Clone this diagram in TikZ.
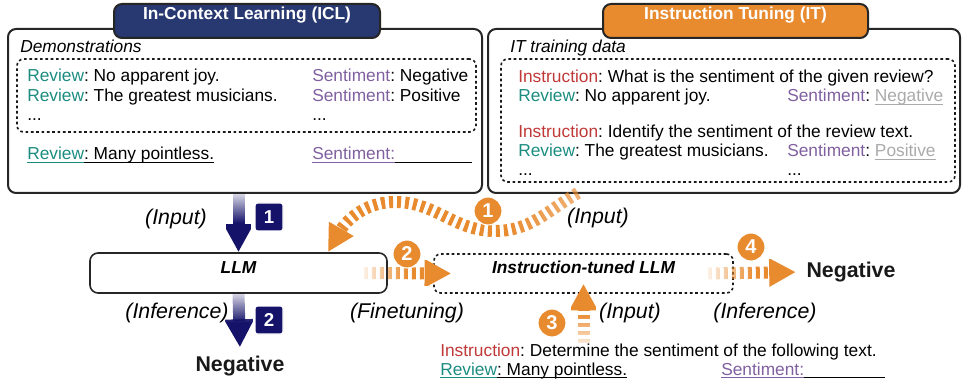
\documentclass[tikz,border=0pt]{standalone}
\usepackage{fontspec}
\setmainfont{Liberation Sans}
\usetikzlibrary{arrows.meta,fit,fadings,positioning}
\frenchspacing

\definecolor{navy}{RGB}{20,18,105}
\definecolor{navytitle}{RGB}{40,56,112}
\definecolor{itorange}{RGB}{232,138,46}
\definecolor{rvwcol}{RGB}{28,140,128}
\definecolor{sntcol}{RGB}{128,96,160}
\definecolor{inscol}{RGB}{192,56,56}
\definecolor{anscol}{RGB}{170,170,170}

\newcommand{\rvw}[1]{\textcolor{rvwcol}{#1}}
\newcommand{\snt}[1]{\textcolor{sntcol}{#1}}
\newcommand{\ins}[1]{\textcolor{inscol}{#1}}
\newcommand{\gry}[1]{\textcolor{anscol}{#1}}
\newcommand{\ulin}[1]{\sbox0{#1}\rlap{\rule[-2.2pt]{\wd0}{0.75pt}}\usebox0}

\tikzfading[name=fadeW, left color=transparent!100, right color=transparent!0, middle color=transparent!0]
\tikzfading[name=fadeN, top color=transparent!100, bottom color=transparent!0, middle color=transparent!0]
\tikzfading[name=fadeS, bottom color=transparent!100, top color=transparent!0, middle color=transparent!0]
\pgfdeclarehorizontalshading{tailE}{100bp}{color(0bp)=(white); color(60bp)=(white); color(100bp)=(black)}
\tikzfading[name=fadeE, shading=tailE]

\tikzset{
  bigbox/.style={draw=black!85, line width=1.5pt, rounded corners=6pt, inner sep=0pt},
  dashbox/.style={draw=black!90, line width=1.2pt, dash pattern=on 2pt off 2pt, rounded corners=5pt, inner sep=0pt},
  titlebox/.style={bigbox, text=white, font=\bfseries\fontsize{13}{15}\selectfont},
  txt/.style={anchor=base west, inner sep=0pt, font=\fontsize{13}{15}\selectfont},
  lab/.style={font=\itshape\fontsize{16}{18}\selectfont},
  negtxt/.style={font=\bfseries\fontsize{16}{18}\selectfont, text=black!90},
  navyarr/.style={navy, line width=9pt, -{Triangle[length=21pt,width=21pt]}},
  orarr/.style={itorange, line width=9pt, dash pattern=on 3pt off 3pt, -{Triangle[length=20pt,width=20pt]}},
  obadge/.style={circle, fill=itorange, draw=white, line width=0.8pt, text=white, inner sep=0pt, minimum size=21pt, font=\bfseries\fontsize{15}{15}\selectfont},
  nbadge/.style={rectangle, rounded corners=2pt, fill=navy, draw=white, line width=0.8pt, text=white, inner sep=0pt, minimum size=21pt, font=\bfseries\fontsize{14}{14}\selectfont},
}

\begin{document}
\begin{tikzpicture}[x=0.75pt, y=-0.75pt]
    \useasboundingbox (0,0) rectangle (964,381);
    % ICL side
    \node[bigbox, fit={(8,29) (482,193)}] (icl) {};
    \node[titlebox, fill=navytitle, fit={(114,4) (380,38)}] (icltitle) {In-Context Learning (ICL)};
    \node[txt] (demlab) at (20,53) {\itshape Demonstrations};
    \node[dashbox, fit={(17,59) (476,132)}] (demo) {};
    \node[txt] (r1) at (27,82) {\rvw{Review}: No apparent joy.};
    \node[txt] (s1) at (312,82) {\snt{Sentiment}: Negative};
    \node[txt] (r2) at (27,102) {\rvw{Review}: The greatest musicians.};
    \node[txt] (s2) at (312,102) {\snt{Sentiment}: Positive};
    \foreach \xp in {27,312}{\node[txt] at (\xp,121) {...};}
    \node[txt] (rq) at (27,160) {\rvw{\ulin{Review}}\ulin{: Many pointless.}};
    \node[txt] (sq) at (312,160) {\snt{\ulin{Sentiment:}}\ulin{\hspace{58pt}}};
    % IT side
    \node[bigbox, fit={(488,29) (960,193)}] (it) {};
    \node[titlebox, fill=itorange, fit={(603,4) (868,38)}] (ittitle) {Instruction Tuning (IT)};
    \node[txt] (itlab) at (510,53) {\itshape IT training data};
    \node[dashbox, fit={(501,59) (955,182)}] (itdata) {};
    \node[txt] (i1) at (518,83) {\ins{Instruction}: What is the sentiment of the given review?};
    \node[txt] (ir1) at (518,102) {\rvw{Review}: No apparent joy.};
    \node[txt] (is1) at (787,102) {\snt{Sentiment}: \gry{\ulin{Negative}}};
    \node[txt] (i2) at (518,138) {\ins{Instruction}: Identify the sentiment of the review text.};
    \node[txt] (ir2) at (518,157) {\rvw{Review}: The greatest musicians.};
    \node[txt] (is2) at (787,157) {\snt{Sentiment}: \gry{\ulin{Positive}}};
    \foreach \xp in {518,787}{\node[txt] at (\xp,176) {...};}
    % models
    \node[bigbox, line width=1.2pt, fit={(90,253) (387,293)}, font=\bfseries\itshape\fontsize{13}{15}\selectfont] (llm) {LLM};
    \node[dashbox, fit={(434,254) (733,293)}, font=\bfseries\itshape\fontsize{13}{15}\selectfont] (itllm) {Instruction-tuned LLM};
    \node[negtxt] (neg1) at (240,366) {Negative};
    \node[negtxt] (neg2) at (851,272) {Negative};
    \node[txt] (qi) at (440,356) {\ins{Instruction}: Determine the sentiment of the following text.};
    \node[txt] (qr) at (440,375) {\rvw{\ulin{Review}}\ulin{: Many pointless.}};
    \node[txt] (qs) at (721,375) {\snt{\ulin{Sentiment:}}\ulin{\hspace{61pt}}};
    % labels
    \node[lab] (in1) at (176,219) {(Input)};
    \node[lab] (inf1) at (177,313) {(Inference)};
    \node[lab] (fine) at (407,313) {(Finetuning)};
    \node[lab] (in2) at (598,218) {(Input)};
    \node[lab] (in3) at (630,313) {(Input)};
    \node[lab] (inf2) at (765,313) {(Inference)};
    % arrows
    \coordinate (itout) at (578,193);
    \coordinate (llmin) at (328,252);
    \draw[navyarr, path fading=fadeN] (icl.south -| llm.north) -- (llm.north);
    \draw[navyarr, path fading=fadeN, shorten >=3pt] (llm.south) -- (neg1.north);
    \draw[orarr, path fading=fadeE] (itout) to[out=210,in=0] (495,231) to[out=180,in=0] (395,202) to[out=180,in=60] (llmin);
    \draw[orarr, path fading=fadeW] ([xshift=-18pt]llm.east) -- ([xshift=13.5pt]itllm.west);
    \draw[orarr, path fading=fadeS] (qi.north -| itllm.south) -- ([yshift=7.5pt]itllm.south);
    \draw[orarr, path fading=fadeW, shorten >=4.5pt] ([xshift=-19.5pt]itllm.east) -- (neg2.west);
    % step badges
    \node[nbadge] (n1) at (269,217) {1};
    \node[nbadge] (n2) at (269,320) {2};
    \node[obadge] (b1) at (488,211) {1};
    \node[obadge] (b2) at (407,254) {2};
    \node[obadge] (b3) at (552,323) {3};
    \node[obadge] (b4) at (751,247) {4};
\end{tikzpicture}
\end{document}
